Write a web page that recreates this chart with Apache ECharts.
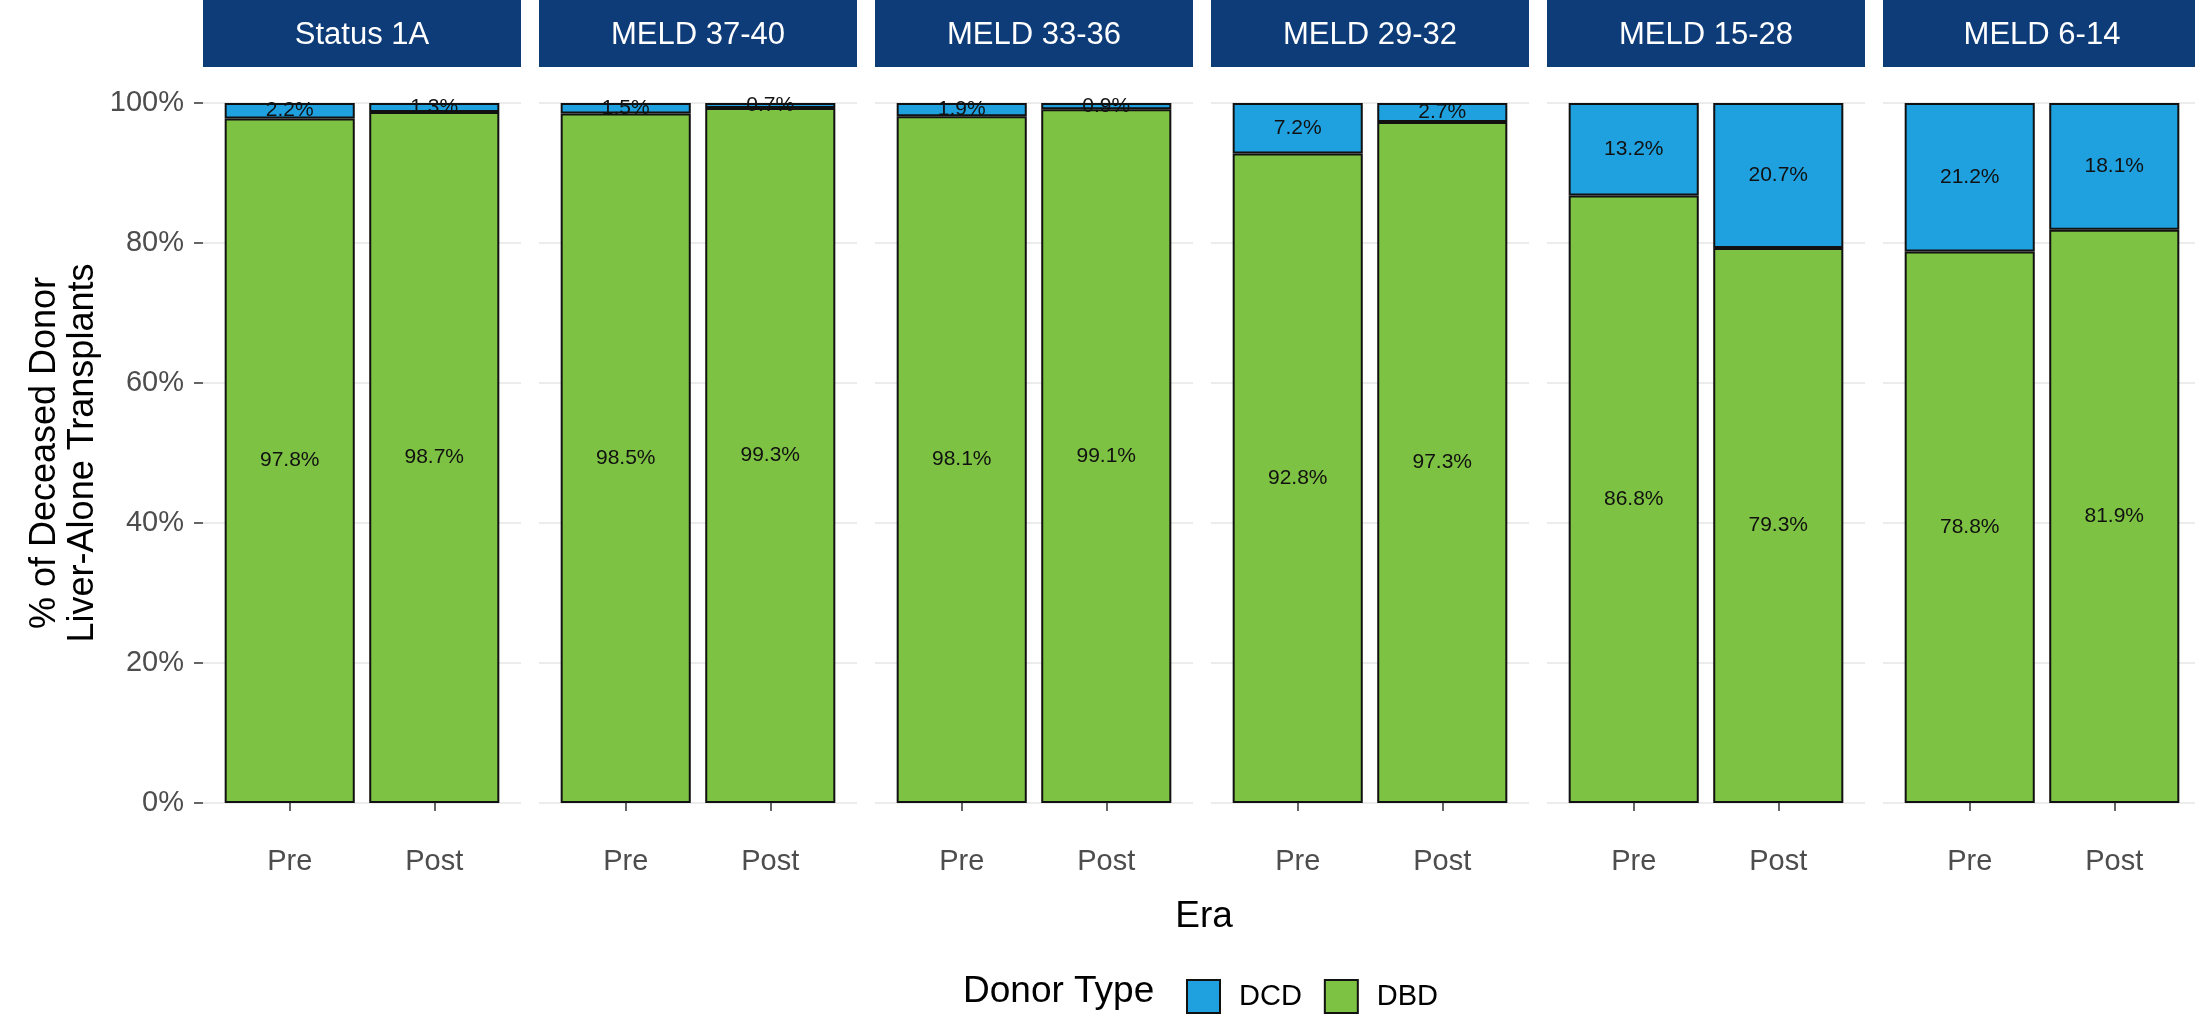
<!DOCTYPE html>
<html>
<head>
<meta charset="utf-8">
<script src="https://cdn.jsdelivr.net/npm/echarts@6/dist/echarts.min.js"></script>
<style>
html,body{margin:0;padding:0;background:#fff;}
#chart{width:2195px;height:1016px;}
</style>
</head>
<body>
<div id="chart"></div>
<script>
// ---- data ----
const panels = ['Status 1A', 'MELD 37-40', 'MELD 33-36', 'MELD 29-32', 'MELD 15-28', 'MELD 6-14'];
const eras = ['Pre', 'Post'];
const dbdValues = [[97.8, 98.7], [98.5, 99.3], [98.1, 99.1], [92.8, 97.3], [86.8, 79.3], [78.8, 81.9]];
const dcdValues = [[2.2, 1.3], [1.5, 0.7], [1.9, 0.9], [7.2, 2.7], [13.2, 20.7], [21.2, 18.1]];
const yTicks = [0, 20, 40, 60, 80, 100];

// ---- layout ----
const FONT = '"Liberation Sans", Arial, Helvetica, sans-serif';
const panelLeft0 = 203, panelW = 318, panelStep = 336;
const gridTop = 103, gridBottom = 213;
const unit = panelW / 2.2;
const BLUE = '#1fa1e0', GREEN = '#7dc242', NAVY = '#0e3c78';

const chart = echarts.init(document.getElementById('chart'), null, {renderer: 'canvas'});

const grids = [], xAxes = [], yAxes = [], series = [], graphics = [];
panels.forEach((p, i) => {
  const left = panelLeft0 + i * panelStep;
  // background grid (full panel width) carrying gridlines and y labels
  const gBg = grids.length;
  grids.push({left: left, width: panelW, top: gridTop, bottom: gridBottom});
  xAxes.push({type: 'value', gridIndex: gBg, min: 0, max: 1, show: false});
  yAxes.push({
    type: 'value', gridIndex: gBg, min: yTicks[0], max: yTicks[yTicks.length - 1], interval: 20,
    axisLine: {show: false},
    axisTick: {show: i === 0, length: 9, lineStyle: {color: '#333', width: 1.5}},
    axisLabel: {show: i === 0, margin: 19, color: '#4d4d4d', fontSize: 29, fontFamily: FONT, formatter: '{value}%'},
    splitLine: {show: true, lineStyle: {color: '#e6e6e6', width: 1.5}}
  });
  // bar grid (category axis, bar centres at ggplot positions)
  const gBar = grids.length;
  grids.push({left: left + 0.1 * unit, width: 2 * unit, top: gridTop, bottom: gridBottom});
  xAxes.push({
    type: 'category', gridIndex: gBar, data: eras, boundaryGap: true, offset: 35,
    axisLine: {show: false}, splitLine: {show: false},
    axisTick: {show: true, alignWithLabel: true, length: 8, lineStyle: {color: '#333', width: 1.5}},
    axisLabel: {show: true, margin: 9, color: '#4d4d4d', fontSize: 29, fontFamily: FONT}
  });
  yAxes.push({type: 'value', gridIndex: gBar, min: yTicks[0], max: yTicks[yTicks.length - 1], show: false,
    splitLine: {show: false}});
  const common = {
    type: 'bar', xAxisIndex: gBar, yAxisIndex: gBar, stack: 'g' + i, barWidth: 0.9 * unit,
    label: {show: true, position: 'inside', color: '#111', fontSize: 21, fontFamily: FONT,
      formatter: pr => Number(pr.value).toFixed(1) + '%'},
    emphasis: {disabled: true}, animation: false
  };
  series.push(Object.assign({}, common, {
    name: 'DBD', color: GREEN, itemStyle: {color: GREEN, borderColor: '#111', borderWidth: 2},
    data: dbdValues[i]
  }));
  series.push(Object.assign({}, common, {
    name: 'DCD', color: BLUE, itemStyle: {color: BLUE, borderColor: '#111', borderWidth: 2},
    data: dcdValues[i]
  }));
  graphics.push({
    type: 'rect', left: left, top: 0, shape: {width: panelW, height: 67},
    style: {fill: NAVY}, silent: true
  });
  graphics.push({
    type: 'text', x: left + panelW / 2, y: 35, silent: true,
    style: {text: p, fill: '#fff', font: '31px ' + FONT, textAlign: 'center', textVerticalAlign: 'middle'}
  });
});

graphics.push({
  type: 'text', x: 64, y: 453, rotation: Math.PI / 2, silent: true,
  style: {text: '% of Deceased Donor\nLiver-Alone Transplants', fill: '#000', font: '36px ' + FONT,
    textAlign: 'center', textVerticalAlign: 'middle', lineHeight: 38}
});
graphics.push({
  type: 'text', x: 1204, y: 917, silent: true,
  style: {text: 'Era', fill: '#000', font: '37px ' + FONT, textAlign: 'center', textVerticalAlign: 'middle'}
});
graphics.push({
  type: 'text', x: 963, y: 992, silent: true,
  style: {text: 'Donor Type', fill: '#000', font: '37px ' + FONT, textAlign: 'left', textVerticalAlign: 'middle'}
});

chart.setOption({
  animation: false,
  backgroundColor: '#fff',
  grid: grids, xAxis: xAxes, yAxis: yAxes, series: series,
  legend: {
    data: ['DCD', 'DBD'], left: 1181, top: 974, orient: 'horizontal',
    icon: 'rect', itemWidth: 33, itemHeight: 33, itemGap: 22,
    itemStyle: {borderColor: '#111', borderWidth: 2},
    textStyle: {fontSize: 29, fontFamily: FONT, color: '#000', padding: [0, 0, 0, 14]},
    selectedMode: false
  },
  graphic: graphics
});
</script>
</body>
</html>
